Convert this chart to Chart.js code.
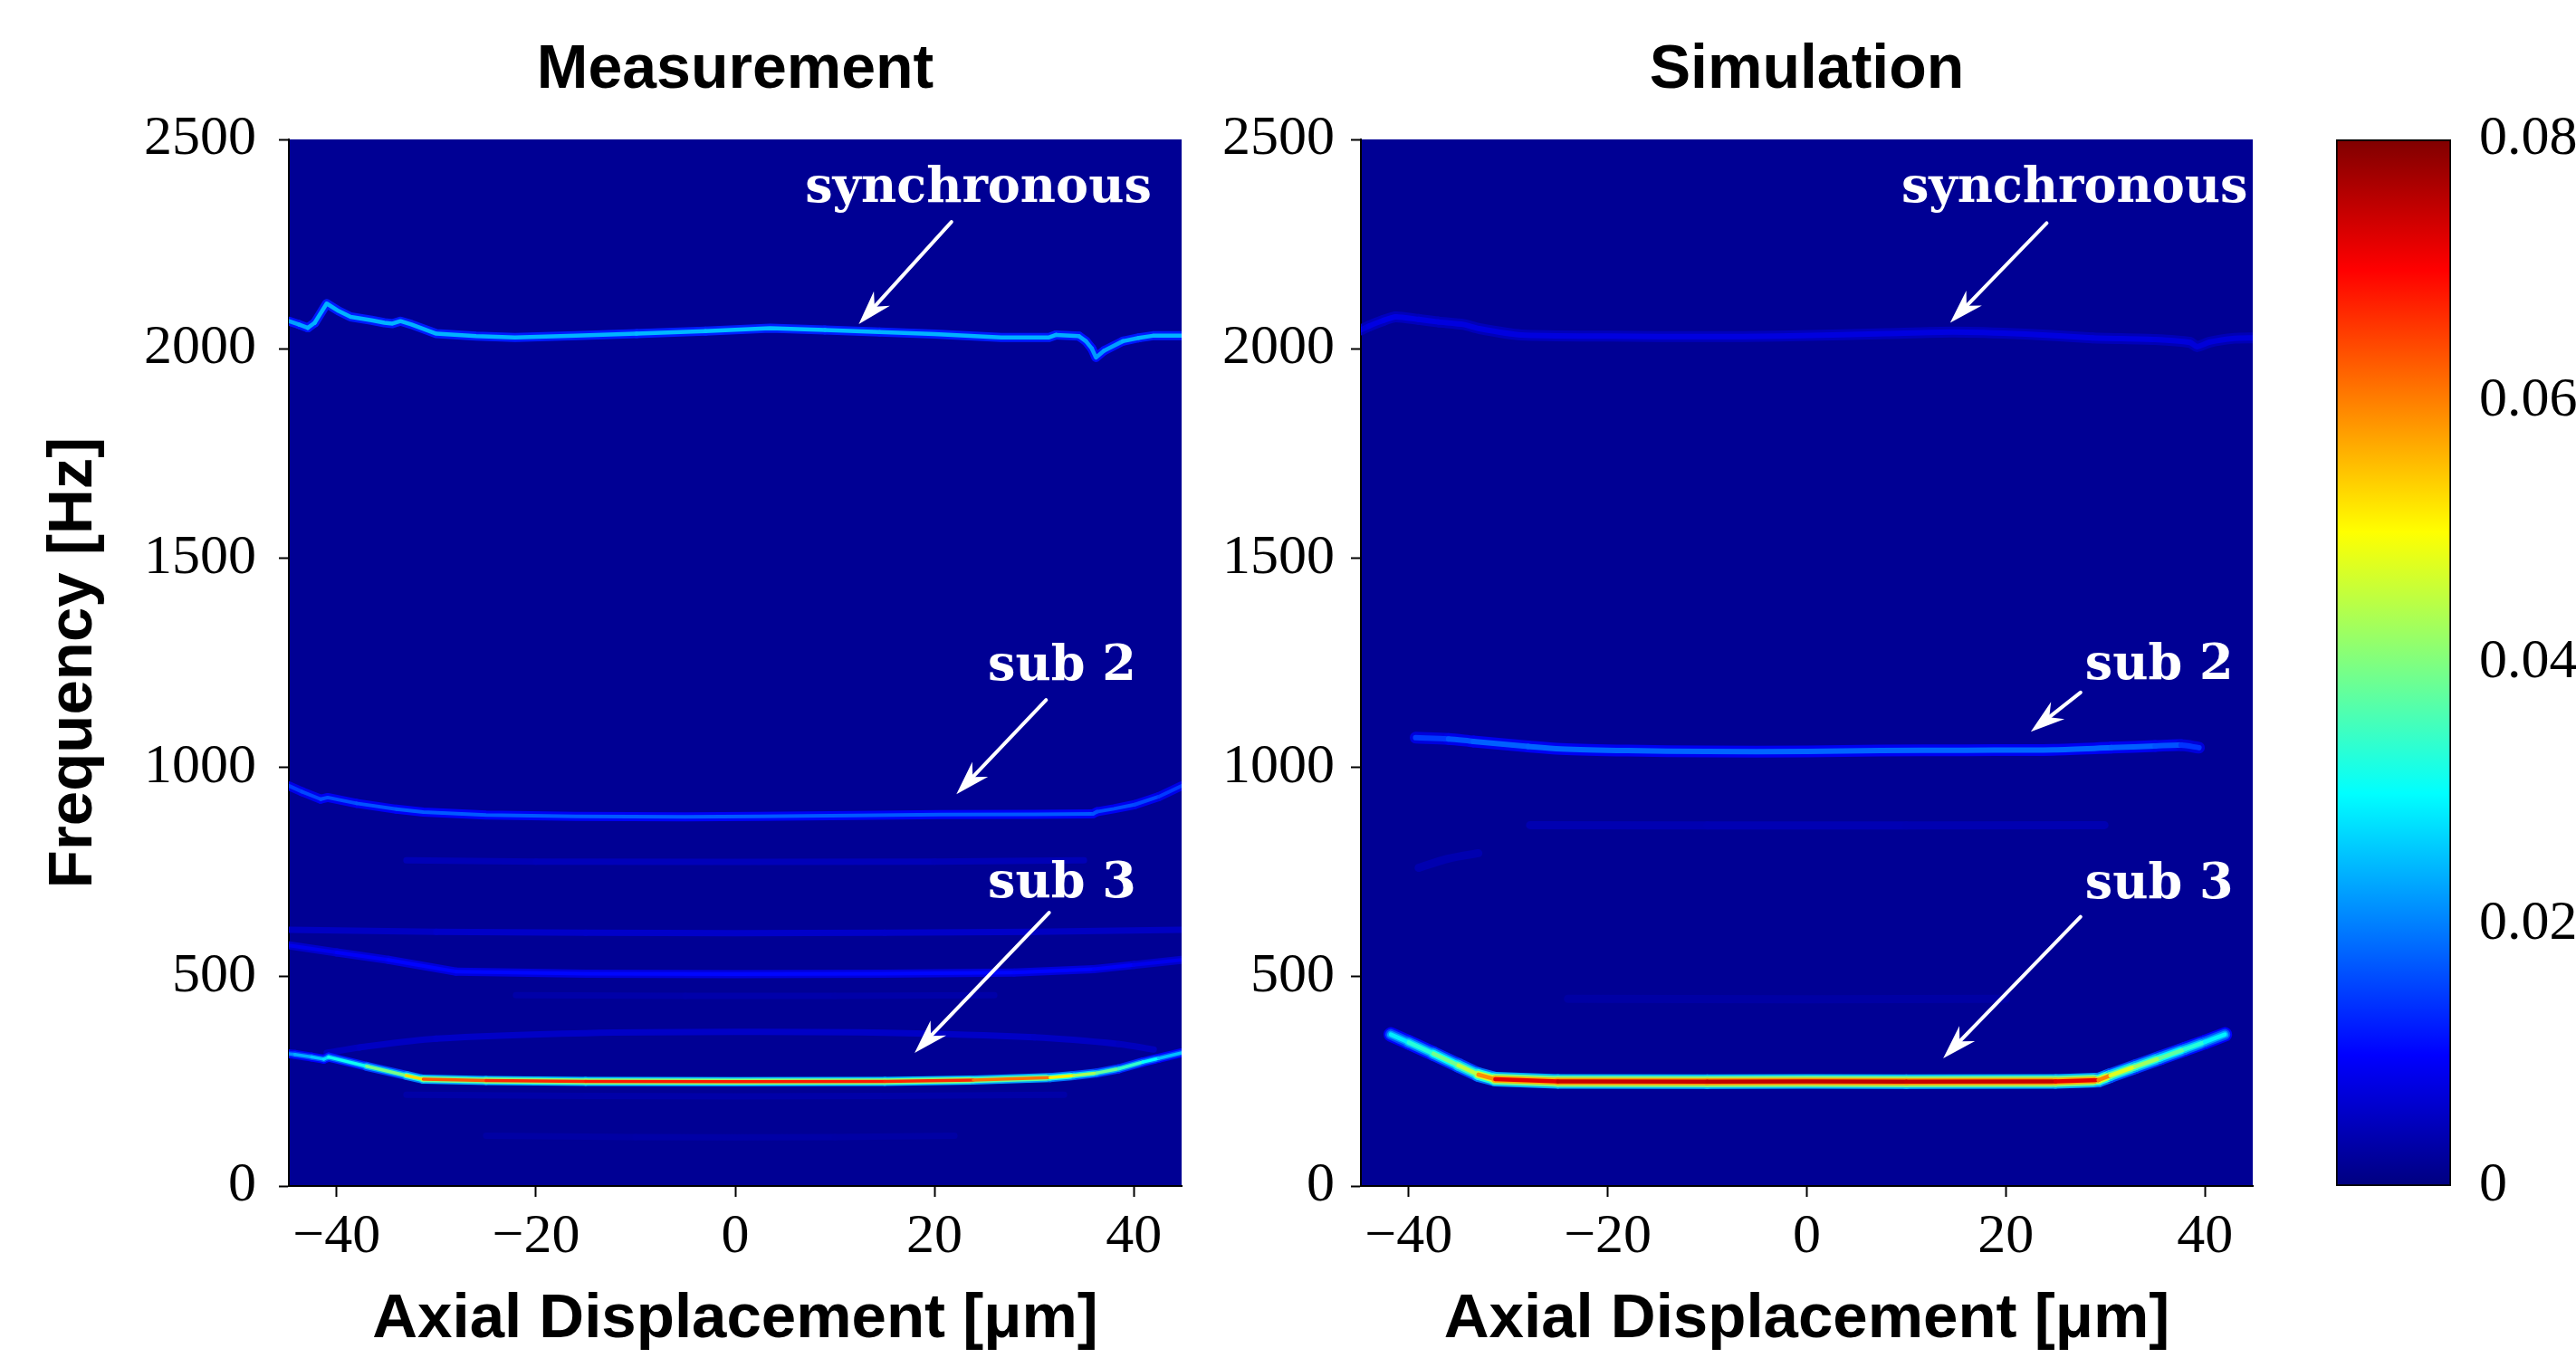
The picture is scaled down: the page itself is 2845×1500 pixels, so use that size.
<!DOCTYPE html>
<html>
<head>
<meta charset="utf-8">
<script src="https://cdn.jsdelivr.net/npm/chart.js@4.4.1/dist/chart.umd.min.js"></script>
<style>
  html, body { margin: 0; padding: 0; background: #ffffff; width: 2845px; height: 1500px; overflow: hidden; }
  .box { position: absolute; top: 0; height: 1500px; }
  #b1 { left: 0; width: 1340px; }
  #b2 { left: 1340px; width: 1200px; }
  #b3 { left: 2540px; width: 305px; }
  canvas { display: block; }
</style>
</head>
<body>
<div class="box" id="b1"><canvas id="c1" width="1340" height="1500"></canvas></div>
<div class="box" id="b2"><canvas id="c2" width="1200" height="1500"></canvas></div>
<div class="box" id="b3"><canvas id="c3" width="305" height="1500"></canvas></div>
<script>
// ---------- axes / ticks ----------
const X_MIN = -44.8, X_MAX = 44.8;
const Y_MIN = 0, Y_MAX = 2500;
const C_MIN = 0, C_MAX = 0.08;
const xTickValues = [-40, -20, 0, 20, 40];
const xTickLabels = ['\u221240', '\u221220', '0', '20', '40'];
const yTickValues = [0, 500, 1000, 1500, 2000, 2500];
const yTickLabels = ['0', '500', '1000', '1500', '2000', '2500'];
const cTickValues = [0, 0.02, 0.04, 0.06, 0.08];
const cTickLabels = ['0', '0.02', '0.04', '0.06', '0.08'];
const colorbarStops = [0, 0.01, 0.03, 0.05, 0.07, 0.08];
const bgLevel = 0.0016;

// ---------- Measurement (x = axial displacement [um], f = frequency [Hz], a = amplitude) ----------
const measSyncX = [-44.8, -43.8, -42.9, -42.2, -41.0, -39.8, -38.6, -36.5, -35.2, -34.4, -33.6, -32.5, -30.0, -26, -22.1, -16, -9.9, -3, 3.5, 9, 14.5, 20, 26.7, 31.5, 32.2, 34.5, 35.2, 35.8, 36.2, 37.0, 38.9, 40.5, 41.9, 44.8];
const measSyncF = [2066, 2058, 2050, 2062, 2108, 2090, 2076, 2068, 2062, 2060, 2066, 2058, 2036, 2030, 2027, 2031, 2036, 2042, 2049, 2045, 2040, 2035, 2027, 2027, 2033, 2030, 2018, 2000, 1979, 1995, 2018, 2026, 2031, 2031];
const measSyncA = [0.022, 0.023, 0.023, 0.024, 0.024, 0.024, 0.024, 0.024, 0.024, 0.024, 0.024, 0.024, 0.024, 0.024, 0.024, 0.024, 0.024, 0.025, 0.025, 0.025, 0.024, 0.024, 0.024, 0.024, 0.024, 0.023, 0.023, 0.022, 0.022, 0.022, 0.023, 0.024, 0.024, 0.024];

const measSub2X = [-44.8, -43.5, -41.6, -40.9, -38, -34, -31.3, -25, -16, -5, 2.3, 12, 20.6, 30, 35.9, 36.3, 38, 40.1, 42.5, 44.8];
const measSub2F = [956, 942, 924, 928, 914, 900, 893, 886, 883, 882, 883, 885, 887, 888, 889, 894, 901, 911, 930, 956];
const measSub2A = [0.014, 0.015, 0.016, 0.016, 0.016, 0.017, 0.017, 0.017, 0.017, 0.017, 0.017, 0.017, 0.017, 0.017, 0.017, 0.016, 0.016, 0.016, 0.015, 0.014];

const measSub3X = [-44.8, -44.2, -42.5, -41.3, -40.8, -37, -33.0, -31.3, -25, -15, 0, 15, 23.9, 31.6, 34, 36.3, 38.5, 40.9, 42.5, 44.8];
const measSub3F = [316, 314, 308, 303, 308, 286, 264, 255, 252, 250, 249, 250, 253, 259, 264, 270, 280, 296, 305, 318];
const measSub3A = [0.020, 0.022, 0.025, 0.026, 0.028, 0.034, 0.045, 0.060, 0.066, 0.068, 0.068, 0.068, 0.066, 0.056, 0.046, 0.040, 0.036, 0.032, 0.028, 0.022];

const measL775X = [-33, -20, 0, 20, 35];
const measL775F = [778, 775, 774, 775, 778];
const measL775A = [0.0040, 0.0045, 0.0045, 0.0045, 0.0040];

const measL605X = [-44.8, -30, -15, 0, 15, 30, 44.8];
const measL605F = [612, 607, 605, 604, 605, 607, 612];
const measL605A = [0.0050, 0.0055, 0.0058, 0.0058, 0.0058, 0.0055, 0.0050];

const measL508X = [-44.8, -40, -34.8, -28, -15, 0, 15, 28, 36, 40, 44.8];
const measL508F = [575, 558, 540, 512, 507, 506, 507, 510, 518, 528, 540];
const measL508A = [0.008, 0.009, 0.010, 0.0105, 0.0105, 0.0105, 0.0105, 0.0105, 0.010, 0.009, 0.008];

const measL455X = [-22, -5, 10, 26];
const measL455F = [456, 454, 454, 456];
const measL455A = [0.0030, 0.0033, 0.0033, 0.0030];

const measArcX = [-41, -37.7, -30, -15, 0, 15, 30, 38.5, 42];
const measArcF = [318, 331, 352, 365, 368, 366, 355, 339, 326];
const measArcA = [0.0045, 0.0050, 0.0055, 0.0055, 0.0055, 0.0055, 0.0055, 0.0050, 0.0045];

const measL215X = [-33, -15, 0, 15, 33];
const measL215F = [218, 215, 214, 215, 218];
const measL215A = [0.0030, 0.0032, 0.0032, 0.0032, 0.0030];

const measL120X = [-25, -10, 0, 10, 22];
const measL120F = [120, 117, 116, 117, 120];
const measL120A = [0.0028, 0.0030, 0.0030, 0.0030, 0.0028];

// ---------- Simulation ----------
const simSyncX = [-44.8, -44.0, -42.5, -41.3, -39, -37, -34.5, -32.9, -28.7, -20, -10, -2.8, 8, 14.7, 22, 28.7, 35, 38.5, 39.2, 40.5, 43, 44.8];
const simSyncF = [2045, 2054, 2068, 2076, 2070, 2064, 2058, 2048, 2033, 2030, 2029, 2030, 2036, 2040, 2035, 2026, 2022, 2015, 2005, 2016, 2025, 2026];
const simSyncA = [0.0070, 0.0075, 0.0080, 0.0080, 0.0078, 0.0075, 0.0075, 0.0075, 0.0075, 0.0075, 0.0075, 0.0075, 0.0075, 0.0075, 0.0075, 0.0075, 0.0073, 0.0070, 0.0070, 0.0070, 0.0070, 0.0070];

const simSub2X = [-39.3, -36, -33.5, -28, -24.7, -18, -10.1, 0, 7.4, 16, 24.8, 30.6, 35, 37.6, 39.4];
const simSub2F = [1071, 1068, 1062, 1050, 1044, 1040, 1038, 1038, 1040, 1041, 1042, 1047, 1051, 1053, 1047];
const simSub2A = [0.013, 0.016, 0.017, 0.018, 0.018, 0.018, 0.018, 0.018, 0.018, 0.018, 0.018, 0.018, 0.017, 0.016, 0.012];

const simSub3X = [-41.8, -40, -37.5, -35, -33.0, -31.3, -25, -10, 0, 10, 25, 29.3, 30.5, 33, 35.5, 38, 40, 42.0];
const simSub3F = [362, 343, 316, 288, 266, 255, 250, 249, 250, 249, 250, 253, 264, 285, 306, 327, 344, 362];
const simSub3A = [0.027, 0.030, 0.036, 0.042, 0.048, 0.070, 0.074, 0.075, 0.075, 0.075, 0.074, 0.070, 0.050, 0.045, 0.040, 0.035, 0.031, 0.027];

const simL861X = [-27.8, -10, 10, 29.9];
const simL861F = [862, 861, 861, 862];
const simL861A = [0.0038, 0.0040, 0.0040, 0.0038];

const simArcX = [-39, -36, -33];
const simArcF = [760, 782, 795];
const simArcA = [0.0035, 0.0040, 0.0035];

const simL447X = [-24, 0, 20];
const simL447F = [447, 446, 447];
const simL447A = [0.0028, 0.0030, 0.0028];

// ---------- annotations (data coordinates) ----------
const measNotes = [
  { text: 'synchronous', tx: 24.4, ty: 2351, from: [21.7, 2303], to: [12.4, 2059] },
  { text: 'sub 2', tx: 32.8, ty: 1209, from: [31.2, 1161], to: [22.2, 936] },
  { text: 'sub 3', tx: 32.8, ty: 690, from: [31.5, 653], to: [18.0, 318] }
];
const simNotes = [
  { text: 'synchronous', tx: 26.9, ty: 2351, from: [24.1, 2300], to: [14.4, 2062] },
  { text: 'sub 2', tx: 35.4, ty: 1211, from: [27.5, 1179], to: [22.5, 1085] },
  { text: 'sub 3', tx: 35.4, ty: 688, from: [27.5, 643], to: [13.7, 305] }
];

// ---------- helpers ----------
function jet(v) {
  const t = Math.max(0, Math.min(1, (v - C_MIN) / (C_MAX - C_MIN)));
  const c = u => Math.round(255 * Math.max(0, Math.min(1, 1.5 - Math.abs(u))));
  return 'rgb(' + c(4 * t - 3) + ',' + c(4 * t - 2) + ',' + c(4 * t - 1) + ')';
}

function traceLayers(xs, fs, amps, layers, tension) {
  const data = xs.map((x, i) => ({ x: x, y: fs[i] }));
  return layers.map(L => ({
    data: data,
    showLine: true,
    pointRadius: 0,
    pointHoverRadius: 0,
    borderWidth: L.w,
    tension: tension || 0,
    borderCapStyle: 'round',
    borderJoinStyle: 'round',
    clip: 0,
    borderColor: jet(amps[0] * L.k),
    segment: {
      borderColor: s => jet(((amps[s.p0DataIndex] + amps[s.p1DataIndex]) / 2) * L.k)
    }
  }));
}

function stackOrder(list) {
  const n = list.length;
  list.forEach((d, i) => { d.order = n - i; });
  return list;
}

function drawArrow(ctx, x0, y0, x1, y1) {
  const ang = Math.atan2(y1 - y0, x1 - x0);
  const c = Math.cos(ang), s = Math.sin(ang);
  const L = 38, W = 12, N = 26;
  ctx.beginPath();
  ctx.moveTo(x0, y0);
  ctx.lineTo(x1 - c * N, y1 - s * N);
  ctx.stroke();
  ctx.beginPath();
  ctx.moveTo(x1, y1);
  ctx.lineTo(x1 - L * c + W * s, y1 - L * s - W * c);
  ctx.lineTo(x1 - N * c, y1 - N * s);
  ctx.lineTo(x1 - L * c - W * s, y1 - L * s + W * c);
  ctx.closePath();
  ctx.fill();
}

const heatBackground = {
  id: 'heatBg',
  beforeDraw(chart) {
    const a = chart.chartArea, c = chart.ctx;
    c.save();
    c.fillStyle = jet(bgLevel);
    c.fillRect(a.left, a.top, a.right - a.left, a.bottom - a.top);
    c.restore();
  }
};

const annotations = {
  id: 'annot',
  afterDatasetsDraw(chart, args, opts) {
    const ctx = chart.ctx, x = chart.scales.x, y = chart.scales.y;
    ctx.save();
    ctx.fillStyle = '#ffffff';
    ctx.strokeStyle = '#ffffff';
    ctx.lineWidth = 4;
    ctx.lineCap = 'round';
    ctx.font = 'bold 54px "DejaVu Serif"';
    ctx.textAlign = 'center';
    ctx.textBaseline = 'alphabetic';
    (opts.items || []).forEach(a => {
      ctx.fillText(a.text, x.getPixelForValue(a.tx), y.getPixelForValue(a.ty));
      drawArrow(ctx, x.getPixelForValue(a.from[0]), y.getPixelForValue(a.from[1]),
                x.getPixelForValue(a.to[0]), y.getPixelForValue(a.to[1]));
    });
    ctx.restore();
  }
};

const tickFont = { family: 'Liberation Serif, serif', size: 62, lineHeight: 1.2 };
const titleFont = { family: 'Liberation Sans, Arial, sans-serif', size: 69, weight: 'bold', lineHeight: 1.2 };
const headFont = { family: 'Liberation Sans, Arial, sans-serif', size: 68, weight: 'bold', lineHeight: 1.2 };

function panelOptions(cfg) {
  return {
    responsive: false,
    animation: false,
    devicePixelRatio: 1,
    events: [],
    layout: { padding: { left: 0, right: cfg.padRight, top: 0, bottom: 0 } },
    plugins: {
      legend: { display: false },
      tooltip: { enabled: false },
      annot: { items: cfg.notes }
    },
    scales: {
      x: {
        type: 'linear', position: 'bottom', min: X_MIN, max: X_MAX,
        afterBuildTicks: s => { s.ticks = xTickValues.map(v => ({ value: v })); },
        ticks: {
          callback: v => xTickLabels[xTickValues.indexOf(v)],
          font: tickFont, color: '#000', padding: 8, maxRotation: 0, autoSkip: false
        },
        grid: { display: true, drawOnChartArea: false, drawTicks: true, tickLength: 12, tickWidth: 2, tickColor: '#000' },
        border: { display: true, color: '#000', width: 2 },
        title: { display: true, text: 'Axial Displacement [\u03bcm]', font: titleFont, color: '#000', padding: { top: 0, bottom: 1 } },
        afterFit: s => { s.height = 190; }
      },
      y: {
        type: 'linear', position: 'left', min: Y_MIN, max: Y_MAX,
        afterBuildTicks: s => { s.ticks = yTickValues.map(v => ({ value: v })); },
        ticks: {
          callback: v => yTickLabels[yTickValues.indexOf(v)],
          font: tickFont, color: '#000', padding: cfg.yPad, autoSkip: false
        },
        grid: { display: true, drawOnChartArea: false, drawTicks: true, tickLength: 11, tickWidth: 2, tickColor: '#000' },
        border: { display: true, color: '#000', width: 2 },
        title: { display: cfg.showYTitle, text: 'Frequency [Hz]', font: titleFont, color: '#000', padding: { top: 41, bottom: 0 } },
        afterFit: s => { s.width = cfg.yWidth; }
      },
      head: {
        type: 'linear', position: 'top', min: 0, max: 1, display: true,
        ticks: { display: false },
        grid: { display: false, drawTicks: false },
        border: { display: false },
        title: { display: true, text: cfg.title, font: headFont, color: '#000', padding: { top: 37, bottom: 0 } },
        afterFit: s => { s.height = 154; }
      }
    }
  };
}

// ---------- Measurement chart ----------
const faint1 = [{ w: 7, k: 1 }];
const measSets = stackOrder([].concat(
  traceLayers(measL120X, measL120F, measL120A, faint1),
  traceLayers(measL215X, measL215F, measL215A, faint1),
  traceLayers(measL455X, measL455F, measL455A, faint1),
  traceLayers(measArcX, measArcF, measArcA, faint1, 0.3),
  traceLayers(measL775X, measL775F, measL775A, faint1),
  traceLayers(measL605X, measL605F, measL605A, faint1),
  traceLayers(measL508X, measL508F, measL508A, [{ w: 9, k: 0.7 }, { w: 4, k: 1 }]),
  traceLayers(measSub2X, measSub2F, measSub2A, [{ w: 10, k: 0.55 }, { w: 4, k: 1 }]),
  traceLayers(measSyncX, measSyncF, measSyncA, [{ w: 10, k: 0.5 }, { w: 4.5, k: 1 }]),
  traceLayers(measSub3X, measSub3F, measSub3A, [{ w: 10, k: 0.38 }, { w: 6.5, k: 0.62 }, { w: 3.5, k: 1 }])
));

new Chart(document.getElementById('c1'), {
  type: 'scatter',
  data: { datasets: measSets },
  options: panelOptions({ title: 'Measurement', notes: measNotes, showYTitle: true, yWidth: 319, yPad: 25, padRight: 35 }),
  plugins: [heatBackground, annotations]
});

// ---------- Simulation chart ----------
const faint2 = [{ w: 9, k: 1 }];
const simSets = stackOrder([].concat(
  traceLayers(simL447X, simL447F, simL447A, faint2),
  traceLayers(simArcX, simArcF, simArcA, faint2, 0.3),
  traceLayers(simL861X, simL861F, simL861A, faint2),
  traceLayers(simSyncX, simSyncF, simSyncA, [{ w: 12, k: 0.6 }, { w: 6, k: 1 }], 0.2),
  traceLayers(simSub2X, simSub2F, simSub2A, [{ w: 13, k: 0.5 }, { w: 6, k: 1 }], 0.3),
  traceLayers(simSub3X, simSub3F, simSub3A, [{ w: 16, k: 0.33 }, { w: 12, k: 0.55 }, { w: 8, k: 0.78 }, { w: 4.5, k: 1 }])
));

new Chart(document.getElementById('c2'), {
  type: 'scatter',
  data: { datasets: simSets },
  options: panelOptions({ title: 'Simulation', notes: simNotes, showYTitle: false, yWidth: 163, yPad: 18, padRight: 52 }),
  plugins: [heatBackground, annotations]
});

// ---------- Colorbar ----------
new Chart(document.getElementById('c3'), {
  type: 'bar',
  data: {
    labels: ['amplitude'],
    datasets: [{
      data: [[C_MIN, C_MAX]],
      barPercentage: 1,
      categoryPercentage: 1,
      borderColor: '#000',
      borderWidth: 2,
      borderSkipped: false,
      backgroundColor: ctx => {
        const ch = ctx.chart;
        if (!ch.chartArea) return jet(C_MIN);
        const ys = ch.scales.y;
        const g = ch.ctx.createLinearGradient(0, ys.getPixelForValue(C_MIN), 0, ys.getPixelForValue(C_MAX));
        colorbarStops.forEach(v => g.addColorStop((v - C_MIN) / (C_MAX - C_MIN), jet(v)));
        return g;
      }
    }]
  },
  options: {
    responsive: false,
    animation: false,
    devicePixelRatio: 1,
    events: [],
    layout: { padding: { left: 40, right: 0, top: 154, bottom: 190 } },
    plugins: { legend: { display: false }, tooltip: { enabled: false } },
    scales: {
      x: { display: false },
      y: {
        type: 'linear', position: 'right', min: C_MIN, max: C_MAX,
        afterBuildTicks: s => { s.ticks = cTickValues.map(v => ({ value: v })); },
        ticks: {
          callback: v => cTickLabels[cTickValues.indexOf(v)],
          font: tickFont, color: '#000', padding: 31, autoSkip: false
        },
        grid: { display: false, drawTicks: false },
        border: { display: false },
        afterFit: s => { s.width = 138; }
      }
    }
  }
});
</script>
</body>
</html>
